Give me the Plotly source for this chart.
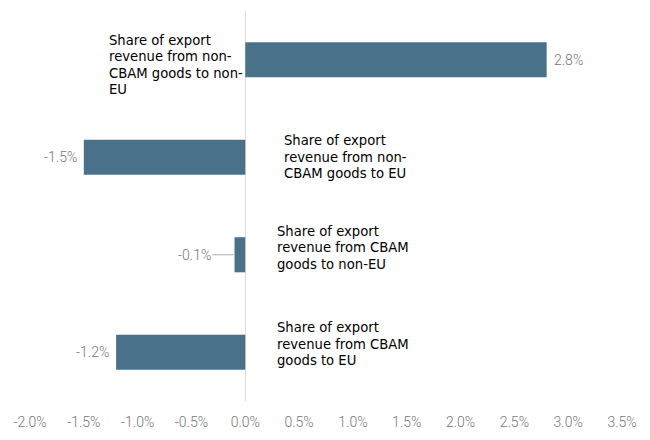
import plotly.graph_objects as go

categories = [
    "Share of export<br>revenue from non-<br>CBAM goods to non-<br>EU",
    "Share of export<br>revenue from non-<br>CBAM goods to EU",
    "Share of export<br>revenue from CBAM<br>goods to non-EU",
    "Share of export<br>revenue from CBAM<br>goods to EU",
]
values = [2.8, -1.5, -0.1, -1.2]
tick_values = [-2.0, -1.5, -1.0, -0.5, 0.0, 0.5, 1.0, 1.5, 2.0, 2.5, 3.0, 3.5]
tick_labels = [f"{v:.1f}%" for v in tick_values]

ids = [f"c{i}" for i in range(len(categories))]
BAR = "#49728a"
GRAY = "#767676"
NUMFONT = dict(family="Roboto", size=14, color=GRAY, weight=300)

fig = go.Figure(go.Bar(
    y=ids, x=values, orientation="h", marker_color=BAR,
    marker_line_width=0, hoverinfo="skip",
))

# category label placement: (left-edge pixel offset from zero line, block offset downward)
cat_pos = [(-138, 5), (37, 0), (30, -7), (30, -8)]
LINE_H = 16.5
for cid, text, (xs, down) in zip(ids, categories, cat_pos):
    lines = text.split("<br>")
    n = len(lines)
    for i, ln in enumerate(lines):
        off = down + (i - (n - 1) / 2) * LINE_H
        fig.add_annotation(x=0, y=cid, xref="x", yref="y", text=ln, showarrow=False,
                           xanchor="left", yanchor="middle", align="left",
                           xshift=xs, yshift=-off,
                           font=dict(family="DejaVu Sans", size=13.2, color="#000"))

for cid, v in zip(ids, values):
    lab = f"{v:.1f}%"
    if abs(v) < 0.3:
        fig.add_annotation(x=v, y=cid, text=lab, showarrow=True, arrowhead=0,
                           arrowwidth=1, arrowcolor="#aaa", ax=-40, ay=0,
                           standoff=1, font=NUMFONT)
    elif v > 0:
        fig.add_annotation(x=v, y=cid, text=lab, showarrow=False, xanchor="left",
                           xshift=5, font=NUMFONT)
    else:
        fig.add_annotation(x=v, y=cid, text=lab, showarrow=False, xanchor="right",
                           xshift=-5, font=NUMFONT)

fig.update_layout(
    width=650, height=440,
    margin=dict(l=22, r=36, t=3, b=47, autoexpand=False),
    plot_bgcolor="white", paper_bgcolor="white",
    bargap=0.64, showlegend=False,
    xaxis=dict(range=[-2.0, 3.5], tickvals=tick_values, ticktext=tick_labels,
               automargin=False, ticklabelstandoff=11,
               showgrid=False, zeroline=True, zerolinecolor="#dddddd", zerolinewidth=1,
               showline=False, ticks="", tickfont=NUMFONT),
    yaxis=dict(categoryorder="array", categoryarray=ids, autorange="reversed",
               automargin=False,
               showticklabels=False, showgrid=False, zeroline=False, showline=False),
)

fig.write_html("out.html")
